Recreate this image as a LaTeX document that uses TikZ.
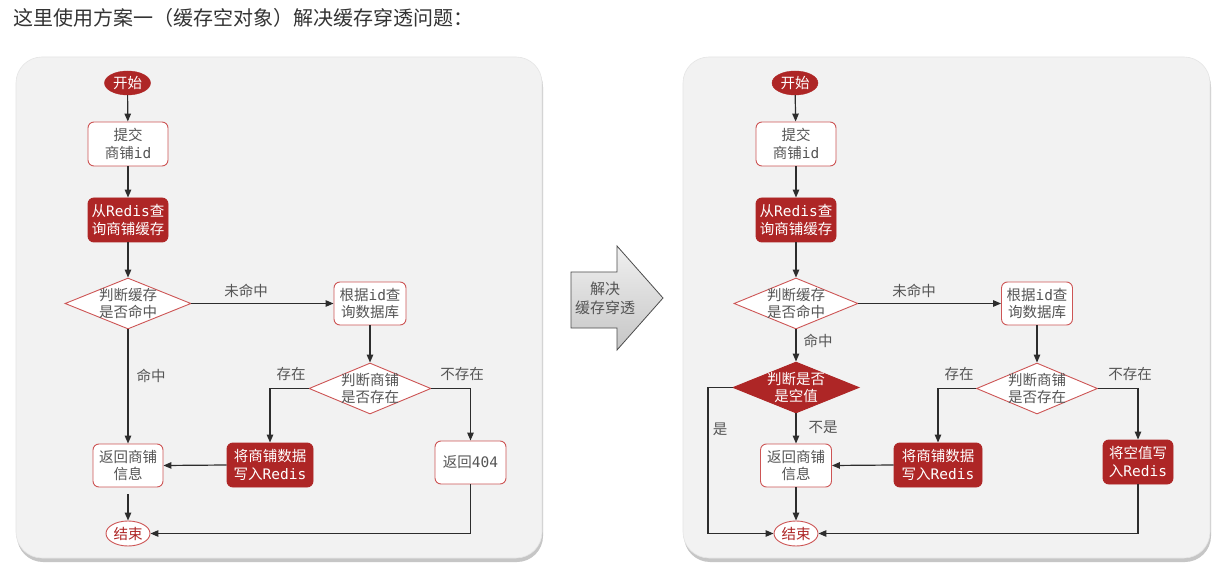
\documentclass[tikz,border=0pt]{standalone}
\usepackage{fontspec}
\setmainfont{Noto Sans CJK SC}
\newfontfamily\mono{DejaVu Sans Mono}
\usetikzlibrary{shapes.geometric,arrows.meta}
\definecolor{dred}{RGB}{174,38,38}
\definecolor{bred}{RGB}{205,85,85}
\definecolor{txt}{RGB}{85,85,85}
\definecolor{ln}{RGB}{45,45,45}
\definecolor{panel}{RGB}{242,242,242}
\begin{document}
\begin{tikzpicture}[x=1pt,y=-1pt,
  every node/.style={font=\fontsize{14.5}{17.5}\selectfont, text=txt, align=center, inner sep=0pt},
  wbox/.style={draw=bred, fill=white, rounded corners=6pt, line width=0.9pt},
  rbox/.style={draw=dred, fill=dred, text=white, rounded corners=6pt, line width=0.9pt},
  wdia/.style={diamond, draw=bred, fill=white, line width=0.9pt},
  rdia/.style={diamond, draw=dred, fill=dred, line width=0.9pt},
  rell/.style={ellipse, draw=dred, fill=dred, text=white, minimum width=46pt, minimum height=24pt},
  well/.style={ellipse, draw=bred, fill=white, text=dred, line width=0.9pt, minimum width=44pt, minimum height=25pt},
  conn/.style={draw=ln, line width=1.2pt, -{Triangle[length=8pt,width=6.5pt]}},
  lbl/.style={text=txt},
  pnl/.style={fill=panel, draw=gray!20, line width=0.6pt, rounded corners=26pt},
  shd/.style={fill=gray!45, rounded corners=26pt},
]
\useasboundingbox (0,0) rectangle (1219,572);
\fill[white] (0,0) rectangle (1219,572);

\node[anchor=west, font=\fontsize{20}{22}\selectfont, text=black!80] (title) at (13,18) {这里使用方案一（缓存空对象）解决缓存穿透问题：};

% panels
\path[shd] (17,61) rectangle (543,562);
\path[pnl] (16,57) rectangle (542,558);
\path[shd] (684,61) rectangle (1211,562);
\path[pnl] (683,57) rectangle (1210,558);

% middle arrow
\shade[top color=gray!12, bottom color=gray!45, draw=black!70, line width=0.8pt]
  (571,272) -- (617,272) -- (617,246) -- (663,298) -- (617,350) -- (617,328) -- (571,328) -- cycle;
\node[font=\fontsize{15}{19}\selectfont] (solve) at (605,298) {解决\\缓存穿透};

% ---------------- left panel ----------------
\node[rell] (st) at (127.5,83) {开始};
\node[wbox, minimum width=80pt, minimum height=44pt] (tj) at (128,144) {提交\\商铺{\mono id}};
\node[rbox, minimum width=80pt, minimum height=44pt] (rq) at (128,220) {从{\mono Redis}查\\询商铺缓存};
\node[wdia, minimum width=126pt, minimum height=51pt] (d1) at (128,303.5) {};
\node (d1t) at (d1.center) {判断缓存\\是否命中};
\node[wbox, minimum width=72pt, minimum height=43pt] (db) at (370,303.5) {根据{\mono id}查\\询数据库};
\node[wdia, minimum width=122pt, minimum height=51pt] (d2) at (370,388.5) {};
\node (d2t) at (d2.center) {判断商铺\\是否存在};
\node[rbox, minimum width=86pt, minimum height=44pt] (wr) at (270,465) {将商铺数据\\写入{\mono Redis}};
\node[wbox, minimum width=70pt, minimum height=43pt] (rs) at (128,465.5) {返回商铺\\信息};
\node[wbox, minimum width=71pt, minimum height=43pt] (r4) at (470.5,462.5) {返回{\mono 404}};
\node[well] (en) at (128,533.5) {结束};

\draw[conn] (st) -- (tj);
\draw[conn] (tj) -- (rq);
\draw[conn] (rq) -- (d1);
\draw[conn] (d1.east) -- (db.west);
\node[lbl] (l1) at (246,291) {未命中};
\draw[conn] (d1.south) -- (rs.north);
\node[lbl] (l2) at (151,376) {命中};
\draw[conn] (db) -- (d2);
\draw[conn] (d2.west) -| (wr.north);
\node[lbl] (l3) at (291,374) {存在};
\draw[conn] (d2.east) -| (r4.north);
\node[lbl] (l4) at (462,374) {不存在};
\draw[conn] (wr.west) -- (rs.east);
\draw[conn, shorten <=7pt] (rs.south) -- (en.north);
\draw[conn] (r4.south) |- (en.east);

% ---------------- right panel ----------------
\node[rell] (st2) at (795,83) {开始};
\node[wbox, minimum width=80pt, minimum height=44pt] (tj2) at (796,144) {提交\\商铺{\mono id}};
\node[rbox, minimum width=80pt, minimum height=44pt] (rq2) at (796,220) {从{\mono Redis}查\\询商铺缓存};
\node[wdia, minimum width=124pt, minimum height=51pt] (e1) at (796,303.5) {};
\node (e1t) at (e1.center) {判断缓存\\是否命中};
\node[wbox, minimum width=71pt, minimum height=43pt] (db2) at (1037,303.5) {根据{\mono id}查\\询数据库};
\node[rdia, minimum width=126pt, minimum height=51pt] (nd) at (796,387.5) {};
\node[text=white] (ndt) at (nd.center) {判断是否\\是空值};
\node[wdia, minimum width=121pt, minimum height=51pt] (e2) at (1037,388.5) {};
\node (e2t) at (e2.center) {判断商铺\\是否存在};
\node[rbox, minimum width=88pt, minimum height=44pt] (wr2) at (938,465) {将商铺数据\\写入{\mono Redis}};
\node[wbox, minimum width=71pt, minimum height=43pt] (rs2) at (796,465.5) {返回商铺\\信息};
\node[rbox, minimum width=70pt, minimum height=44pt] (wn) at (1138,462) {将空值写\\入{\mono Redis}};
\node[well] (en2) at (796,533.5) {结束};
\coordinate (c1) at (708,387.5);

\draw[conn] (st2) -- (tj2);
\draw[conn] (tj2) -- (rq2);
\draw[conn] (rq2) -- (e1);
\draw[conn] (e1.east) -- (db2.west);
\node[lbl] (m1) at (914,291) {未命中};
\draw[conn] (e1.south) -- (nd.north);
\node[lbl] (m2) at (818,341) {命中};
\draw[conn] (nd.south) -- (rs2.north);
\node[lbl] (m3) at (823,427) {不是};
\draw[conn] (nd.west) -- (c1) |- (en2.west);
\node[lbl] (m4) at (720,429) {是};
\draw[conn] (db2) -- (e2);
\draw[conn] (e2.west) -| (wr2.north);
\node[lbl] (m5) at (959,374) {存在};
\draw[conn] (e2.east) -| (wn.north);
\node[lbl] (m6) at (1130,374) {不存在};
\draw[conn] (wr2.west) -- (rs2.east);
\draw[conn] (rs2.south) -- (en2.north);
\draw[conn] (wn.south) |- (en2.east);
\end{tikzpicture}
\end{document}
